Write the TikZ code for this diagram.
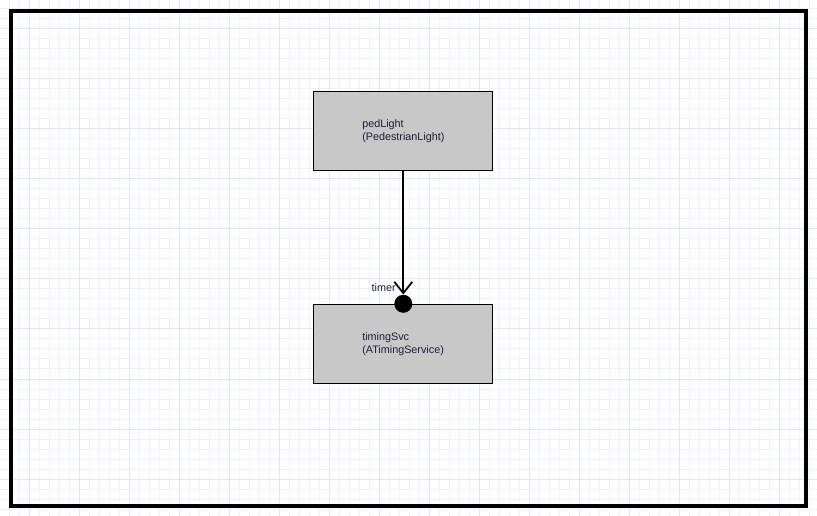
\documentclass[tikz,border=0pt]{standalone}
\usepackage{fontspec}
\setmainfont{Liberation Sans}
\usetikzlibrary{arrows.meta}
\definecolor{gridminor}{HTML}{EDF2F9}
\definecolor{gridmajor}{HTML}{DEE8F4}
\definecolor{partfill}{HTML}{C8C8C8}
\definecolor{labeltext}{HTML}{1E1E3C}
\tikzset{
  part/.style={draw=black, line width=0.75pt, fill=partfill, minimum width=134.25pt, minimum height=59.25pt, inner sep=0pt},
  partlabel/.style={anchor=west, align=left, font=\fontsize{8.1}{9.8}\selectfont, text=labeltext, inner sep=0pt},
  portdot/.style={circle, fill=black, minimum size=13.5pt, inner sep=0pt},
  wire/.style={line width=1.5pt, -{Straight Barb[length=8.5pt, width=13.5pt, line width=1.3pt]}},
}
\begin{document}
\begin{tikzpicture}[x=0.75pt, y=-0.75pt]
  \useasboundingbox (0,0) rectangle (817,516);
  % background grid
  \foreach \gx in {9,19,...,819} \draw[gridminor, line width=0.75pt] (\gx,0) -- (\gx,516);
  \foreach \gy in {9,19,...,519} \draw[gridminor, line width=0.75pt] (0,\gy) -- (817,\gy);
  \foreach \gx in {29,79,...,819} \draw[gridmajor, line width=0.75pt] (\gx,0) -- (\gx,516);
  \foreach \gy in {29,79,...,519} \draw[gridmajor, line width=0.75pt] (0,\gy) -- (817,\gy);
  % diagram frame
  \draw[black, line width=2.8pt] (10.8,11) rectangle (806,506.3);
  % parts
  \node[part] (ped) at (402.8,130.8) {};
  \node[partlabel] (pedtxt) at (362,131.5) {pedLight\\(PedestrianLight)};
  \node[part] (svc) at (402.8,343.8) {};
  \node[partlabel] (svctxt) at (362,344.5) {timingSvc\\(ATimingService)};
  % port on the timing service
  \node[portdot] (port) at (403.3,303.8) {};
  \node[anchor=east, font=\fontsize{8.1}{9.8}\selectfont, text=labeltext, inner sep=0pt] (portlbl) at (396,287.5) {timer};
  % connector
  \draw[wire] (ped.south -| port) -- (port.north);
\end{tikzpicture}
\end{document}
